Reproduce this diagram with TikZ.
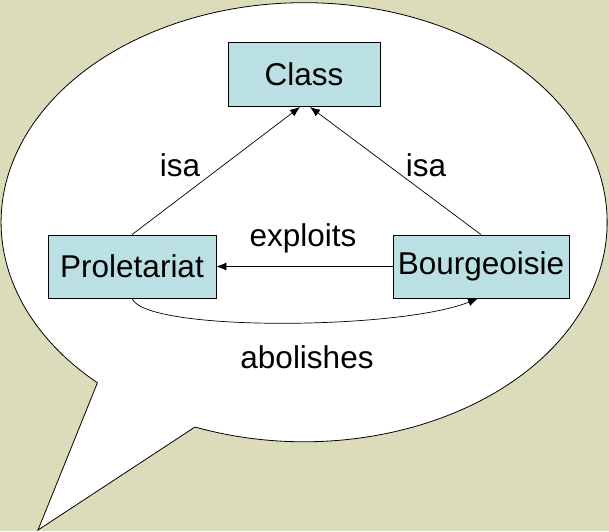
\documentclass[tikz,border=0pt]{standalone}
\usepackage{fontspec}
\setmainfont{Liberation Sans}
\usetikzlibrary{arrows.meta,calc}
\definecolor{bgOlive}{RGB}{220,220,186}
\definecolor{boxBlue}{RGB}{187,224,227}
\tikzset{
  conceptBox/.style={rectangle, draw=black, fill=boxBlue, line width=0.8pt, inner sep=0pt},
  relLine/.style={line width=0.7pt, -{Latex[length=10pt,width=8pt]}},
  relLabel/.style={inner sep=1pt}
}
\begin{document}
\begin{tikzpicture}[x=1pt, y=-1pt, font=\fontsize{31.5}{37}\selectfont]
\fill[bgOlive] (0,0) rectangle (609,531);
\useasboundingbox (0,0) rectangle (609,531);

% speech bubble
\coordinate(tailStart) at (97,383);
\coordinate(tailTip) at (38,530);
\coordinate(tailEnd) at (195,427);
\draw[fill=white, line width=0.8pt] (tailEnd) arc[start angle=111.1, end angle=-227, x radius=303, y radius=219.5] -- (tailTip) -- cycle;

% concepts
\node[conceptBox, minimum width=152pt, minimum height=64pt](class) at (304,74){Class};
\node[conceptBox, minimum width=168pt, minimum height=63pt](proletariat) at (132,266.5){Proletariat};
\node[conceptBox, minimum width=176pt, minimum height=63pt](bourgeoisie) at (481,266.5){Bourgeoisie};

% relations
\coordinate(isaLeftTip) at (300,107);
\coordinate(isaRightTip) at (310,107);
\draw[relLine] (proletariat.north) -- (isaLeftTip);
\draw[relLine] (bourgeoisie.north) -- (isaRightTip);
\draw[relLine] (bourgeoisie.west) -- (proletariat.east);
\draw[relLine] (proletariat.south) .. controls (145,332) and (400,330) .. ([xshift=-3pt]bourgeoisie.south);

\node[relLabel](isaLeftLabel) at (180,165){isa};
\node[relLabel](isaRightLabel) at (426,165){isa};
\node[relLabel](exploitsLabel) at (303,238){exploits};
\node[relLabel](abolishesLabel) at (307,357){abolishes};
\end{tikzpicture}
\end{document}
